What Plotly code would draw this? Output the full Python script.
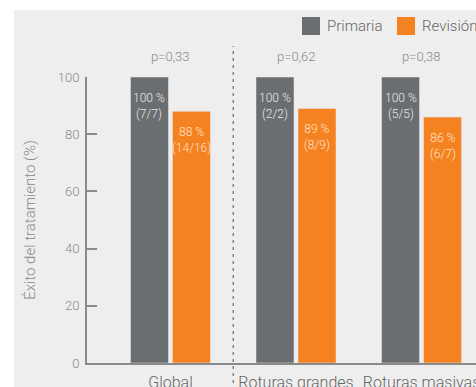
import plotly.graph_objects as go

categories = ["Global", "Roturas grandes", "Roturas masivas"]
primaria = [100, 100, 100]
revision = [88, 89, 86]
primaria_labels = ["100 %<br>(7/7)", "100 %<br>(2/2)", "100 %<br>(5/5)"]
revision_labels = ["88 %<br>(14/16)", "89 %<br>(8/9)", "86 %<br>(6/7)"]
p_values = ["p=0,33", "p=0,62", "p=0,38"]
y_ticks = [0, 20, 40, 60, 80, 100]

GRAY = "#6b6e71"
ORANGE = "#f58220"
BG = "#eeeeee"
TXT = "#8a8a8a"
FONT = "Roboto"

W, H = 476, 387
L, R, T, B = 87, 0, 77, 24
PW, PH = W - L - R, H - T - B

def px2x(px):
    return (px - L) / PW

def px2y(py):
    return (H - B - py) / PH

xs = list(range(len(categories)))

fig = go.Figure()
fig.add_trace(go.Bar(x=xs, y=primaria, name="Primaria", marker_color=GRAY, showlegend=False))
fig.add_trace(go.Bar(x=xs, y=revision, name="Revisión", marker_color=ORANGE, showlegend=False))

shapes = [
    dict(type="rect", xref="paper", yref="paper",
         x0=px2x(14), x1=px2x(W + 20), y0=px2y(H + 20), y1=px2y(10),
         fillcolor=BG, line_width=0, layer="below"),
    dict(type="line", xref="x", yref="paper", x0=0.5, x1=0.5,
         y0=px2y(H + 10), y1=px2y(46),
         line=dict(color="#6a6a6a", width=1.2, dash="3px,4px")),
    dict(type="rect", xref="paper", yref="paper",
         x0=px2x(302), x1=px2x(320), y0=px2y(35), y1=px2y(17),
         fillcolor=GRAY, line_width=0),
    dict(type="rect", xref="paper", yref="paper",
         x0=px2x(397), x1=px2x(415), y0=px2y(35), y1=px2y(17),
         fillcolor=ORANGE, line_width=0),
]

annotations = [
    dict(x=xs[i], y=px2y(57), xref="x", yref="paper", text=p, yanchor="middle",
         showarrow=False, font=dict(family=FONT, size=13, color=TXT, weight=300))
    for i, p in enumerate(p_values)
]
# value labels inside the bars
for i in xs:
    annotations.append(dict(
        x=xs[i], y=primaria[i], xref="x", yref="y", text=primaria_labels[i],
        xshift=-21, yshift=-12, yanchor="top", showarrow=False,
        font=dict(family=FONT, size=12, color="#e8e8e8", weight=300)))
    annotations.append(dict(
        x=xs[i], y=revision[i], xref="x", yref="y", text=revision_labels[i],
        xshift=21, yshift=-12, yanchor="top", showarrow=False,
        font=dict(family=FONT, size=12, color="#fde3cb", weight=300)))

annotations += [
    dict(x=px2x(325), y=px2y(26), xref="paper", yref="paper", text="Primaria",
         xanchor="left", yanchor="middle", showarrow=False,
         font=dict(family=FONT, size=15, color="#666666", weight=300)),
    dict(x=px2x(420), y=px2y(26), xref="paper", yref="paper", text="Revisión",
         xanchor="left", yanchor="middle", showarrow=False,
         font=dict(family=FONT, size=15, color="#666666", weight=300)),
]

fig.update_layout(
    width=W, height=H,
    margin=dict(l=L, r=R, t=T, b=B, pad=0, autoexpand=False),
    paper_bgcolor="white", plot_bgcolor="rgba(0,0,0,0)",
    barmode="group", bargap=0.3307, bargroupgap=0.095,
    shapes=shapes, annotations=annotations,
    font=dict(family=FONT, color=TXT),
)
fig.update_xaxes(
    range=[-0.665, 2.434], tickvals=xs, ticktext=categories,
    showline=True, linecolor="#8a8a8a", linewidth=2, ticks="",
    showgrid=False, zeroline=False, ticklabelstandoff=4, automargin=False,
    ticklabeloverflow="allow",
    tickfont=dict(family=FONT, size=16, color="#666666", weight=300),
)
fig.update_yaxes(
    range=[0, 100], tickvals=y_ticks, showline=True, linecolor="#8a8a8a", linewidth=2,
    ticks="inside", ticklen=10, tickcolor="#8a8a8a", tickwidth=1.5,
    showgrid=False, zeroline=False, ticklabelstandoff=3, automargin=False,
    tickfont=dict(family=FONT, size=13, color=TXT, weight=300),
    title=dict(text="Éxito del tratamiento (%)", standoff=19,
               font=dict(family=FONT, size=15, color=TXT, weight=300)),
)

fig.write_html("out.html")
